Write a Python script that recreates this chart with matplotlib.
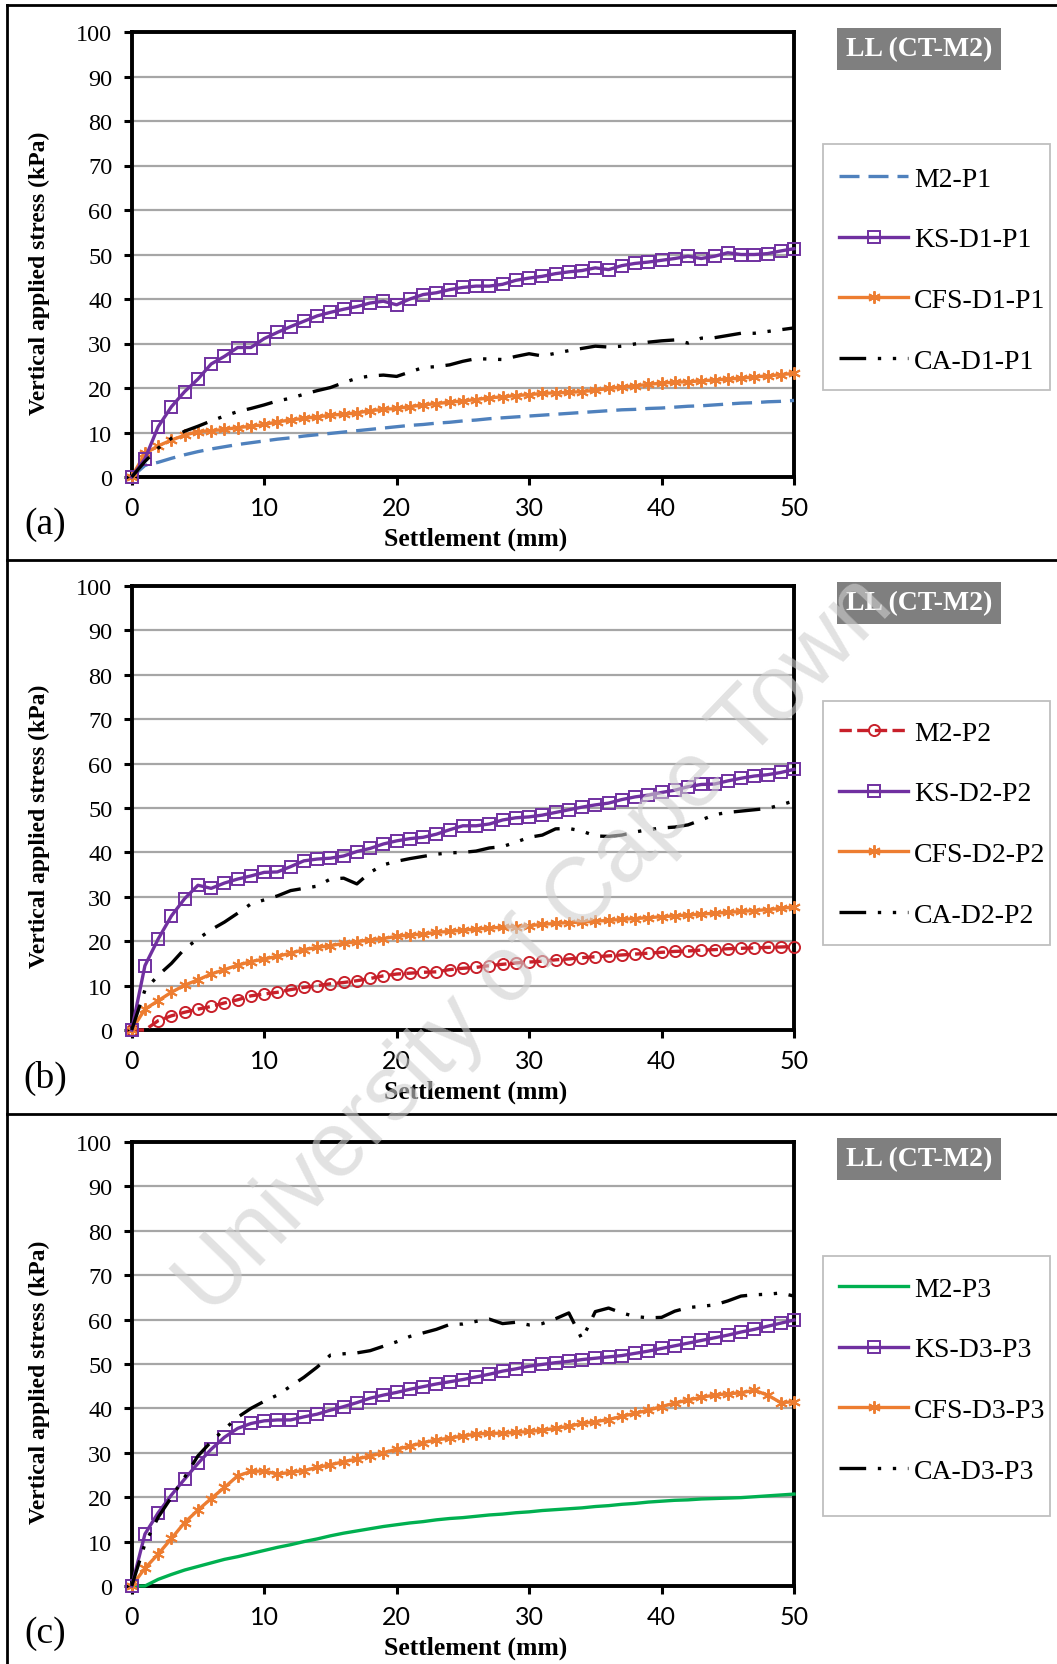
import numpy as np
import matplotlib
matplotlib.use("Agg")
import matplotlib.pyplot as plt
from matplotlib.lines import Line2D
from matplotlib.patches import Rectangle

# Settlement (mm), one reading per mm
x = np.arange(0, 51)

# (a) P1
m2_p1 = [0, 2.6, 3.3, 4.2, 5.0, 5.7, 6.3, 6.8, 7.3, 7.7, 8.1, 8.5, 8.8, 9.2, 9.5, 9.8, 10.1,
         10.4, 10.7, 11.0, 11.3, 11.6, 11.8, 12.1, 12.3, 12.6, 12.8, 13.1, 13.3, 13.5, 13.7,
         13.9, 14.1, 14.3, 14.5, 14.7, 14.9, 15.1, 15.2, 15.4, 15.5, 15.7, 15.9, 16.0, 16.2,
         16.4, 16.6, 16.7, 16.9, 17.0, 17.2]
ks_d1_p1 = [0, 4.1, 11.3, 15.8, 19.2, 22.0, 25.4, 27.1, 29.1, 29.1, 31.1, 32.5, 33.8, 35.0,
            36.2, 37.0, 37.7, 38.3, 39.1, 39.5, 38.7, 40.0, 41.0, 41.4, 42.1, 42.6, 42.9, 42.9,
            43.3, 44.2, 44.7, 45.1, 45.7, 46.1, 46.4, 47.0, 46.6, 47.5, 48.0, 48.3, 48.7, 49.1,
            49.6, 49.1, 49.6, 50.4, 50.0, 50.0, 50.2, 50.8, 51.3]
cfs_d1_p1 = [0, 5.3, 7.0, 8.3, 9.4, 10.2, 10.4, 10.7, 11.1, 11.4, 11.8, 12.4, 12.8, 13.2, 13.5,
             13.9, 14.1, 14.4, 14.9, 15.2, 15.4, 15.8, 16.2, 16.5, 16.8, 17.1, 17.4, 17.8, 18.0,
             18.3, 18.5, 18.8, 18.9, 19.0, 19.2, 19.5, 19.9, 20.2, 20.5, 20.8, 21.1, 21.3, 21.4,
             21.6, 21.8, 22.0, 22.2, 22.5, 22.7, 23.0, 23.3]
ca_d1_p1 = [0, 3.5, 6.5, 8.7, 10.3, 11.4, 12.6, 13.7, 14.7, 15.4, 16.2, 17.1, 17.7, 18.6, 19.4,
            20.1, 21.2, 22.2, 22.7, 22.9, 22.6, 23.6, 24.6, 24.8, 25.2, 26.0, 26.6, 26.5, 26.4,
            27.1, 27.7, 27.2, 27.8, 28.4, 28.9, 29.4, 29.2, 29.4, 29.9, 30.3, 30.6, 30.8, 30.1,
            31.2, 31.3, 31.8, 32.3, 32.3, 32.7, 33.1, 33.5]

# (b) P2
m2_p2 = [0, 0, 2.1, 3.2, 4.0, 4.7, 5.3, 6.1, 6.8, 7.7, 8.1, 8.5, 9.1, 9.6, 10.0, 10.4, 10.7,
         11.1, 11.6, 12.2, 12.6, 12.8, 13.0, 13.1, 13.6, 13.9, 14.1, 14.5, 14.8, 15.1, 15.3,
         15.5, 15.8, 16.0, 16.3, 16.5, 16.7, 16.9, 17.1, 17.3, 17.5, 17.7, 17.8, 18.0, 18.1,
         18.3, 18.4, 18.5, 18.6, 18.7, 18.8]
ks_d2_p2 = [0, 14.5, 20.5, 25.7, 29.6, 32.6, 31.9, 33.1, 34.0, 34.7, 35.5, 35.6, 36.8, 38.1,
            38.5, 38.7, 39.2, 40.2, 40.9, 41.9, 42.6, 43.1, 43.4, 44.1, 45.1, 46.0, 46.0, 46.4,
            47.3, 47.8, 48.0, 48.4, 49.0, 49.6, 50.2, 50.7, 51.1, 51.9, 52.5, 52.9, 53.5, 54.0,
            54.8, 55.3, 55.4, 56.1, 56.7, 57.2, 57.5, 58.0, 58.7]
cfs_d2_p2 = [0, 4.7, 6.6, 8.5, 10.1, 11.3, 12.6, 13.6, 14.6, 15.4, 16.0, 16.6, 17.3, 18.1, 18.6,
             19.0, 19.5, 19.9, 20.3, 20.6, 21.1, 21.4, 21.6, 22.0, 22.2, 22.5, 22.7, 23.0, 23.1,
             23.3, 23.5, 23.8, 24.0, 24.2, 24.3, 24.5, 24.7, 24.9, 25.1, 25.3, 25.5, 25.7, 25.9,
             26.1, 26.3, 26.5, 26.7, 26.9, 27.1, 27.4, 27.7]
ca_d2_p2 = [0, 9.0, 12.3, 15.0, 18.3, 20.5, 22.6, 24.3, 26.3, 28.4, 29.3, 30.2, 31.4, 31.9, 32.4,
            34.0, 34.2, 32.9, 35.5, 37.2, 38.0, 38.6, 39.1, 39.6, 39.9, 40.0, 40.3, 41.0, 41.3,
            42.3, 43.4, 43.9, 45.3, 45.4, 44.8, 43.7, 43.6, 43.9, 44.6, 45.1, 45.5, 45.7, 46.2,
            47.3, 48.5, 49.0, 49.3, 49.6, 49.9, 50.7, 51.6]

# (c) P3
m2_p3 = [0, 0, 1.5, 2.6, 3.6, 4.4, 5.2, 6.0, 6.6, 7.3, 8.0, 8.7, 9.3, 10.0, 10.6, 11.3, 11.9,
         12.4, 12.9, 13.4, 13.8, 14.2, 14.5, 14.9, 15.2, 15.4, 15.7, 16.0, 16.2, 16.5, 16.7,
         17.0, 17.2, 17.4, 17.6, 17.9, 18.1, 18.4, 18.6, 18.9, 19.1, 19.3, 19.4, 19.6, 19.7,
         19.8, 19.9, 20.1, 20.3, 20.5, 20.7]
ks_d3_p3 = [0, 11.7, 16.5, 20.5, 24.1, 27.6, 30.8, 33.5, 35.5, 36.6, 37.2, 37.4, 37.4, 38.1,
            38.7, 39.6, 40.4, 41.3, 42.3, 43.0, 43.6, 44.3, 44.9, 45.5, 46.0, 46.5, 47.1, 47.7,
            48.4, 48.9, 49.5, 49.9, 50.3, 50.6, 51.0, 51.3, 51.6, 51.9, 52.4, 52.9, 53.5, 54.1,
            54.7, 55.3, 55.9, 56.5, 57.2, 57.8, 58.5, 59.2, 59.9]
cfs_d3_p3 = [0, 4.0, 7.2, 10.7, 14.3, 17.1, 19.7, 22.2, 24.8, 25.8, 25.9, 25.2, 25.6, 26.0,
             26.7, 27.3, 28.0, 28.6, 29.3, 30.0, 30.8, 31.5, 32.3, 32.9, 33.3, 33.8, 34.2, 34.4,
             34.4, 34.6, 34.8, 35.1, 35.5, 36.0, 36.6, 37.0, 37.5, 38.2, 38.9, 39.6, 40.4, 41.2,
             41.9, 42.5, 43.0, 43.3, 43.5, 44.1, 43.0, 41.3, 41.5]
ca_d3_p3 = [0, 9.5, 15.5, 20.0, 24.5, 29.3, 32.5, 35.3, 38.0, 40.0, 41.6, 43.0, 45.0, 47.0,
            49.3, 52.0, 52.3, 52.5, 53.0, 54.0, 55.0, 56.2, 57.0, 57.8, 58.9, 59.0, 59.6, 60.1,
            59.1, 59.4, 58.8, 59.1, 60.2, 61.5, 55.6, 61.8, 62.6, 61.5, 60.7, 60.4, 60.5, 61.9,
            62.7, 63.0, 63.3, 64.2, 65.3, 65.6, 65.7, 66.0, 65.3]

panels = [
    ("(a)", ["M2-P1", "KS-D1-P1", "CFS-D1-P1", "CA-D1-P1"], [m2_p1, ks_d1_p1, cfs_d1_p1, ca_d1_p1]),
    ("(b)", ["M2-P2", "KS-D2-P2", "CFS-D2-P2", "CA-D2-P2"], [m2_p2, ks_d2_p2, cfs_d2_p2, ca_d2_p2]),
    ("(c)", ["M2-P3", "KS-D3-P3", "CFS-D3-P3", "CA-D3-P3"], [m2_p3, ks_d3_p3, cfs_d3_p3, ca_d3_p3]),
]

W, H = 1057, 1665
serif = "Liberation Serif"
purple = "#7030a0"
orange = "#ed7d31"
ca_style = (0, (8, 3.5, 1, 3.5, 1, 3.5))

# style of the first (M2) curve changes from panel to panel
m2_styles = [
    dict(color="#4f81bd", ls=(0, (6, 2.7)), marker=None),
    dict(color="#c8202a", ls="--", marker="o", ms=8, mfc="none", mew=1.4,
         markevery=[0] + list(range(2, 51))),
    dict(color="#00b050", ls="-", marker=None),
]

# axes tops/bottoms in pixels, legend frame (top, bottom) in pixels
ax_top = [33, 587, 1143]
ax_bot = [478, 1031, 1587]
ax_left, ax_right = 131.7, 794
leg_box = [(145, 391), (702, 946), (1257, 1517)]

fig = plt.figure(figsize=(W / 100, H / 100), dpi=100)

for i, (tag, names, series) in enumerate(panels):
    ax = fig.add_axes([ax_left / W, 1 - ax_bot[i] / H, (ax_right - ax_left) / W,
                       (ax_bot[i] - ax_top[i]) / H])
    m2, ks, cfs, ca = series
    lw = 2.4
    ax.plot(x, m2, lw=lw, label=names[0], clip_on=False, zorder=3, **m2_styles[i])
    ax.plot(x, ks, color=purple, lw=lw, marker="s", ms=8, mfc="none", mew=1.4,
            label=names[1], clip_on=False, zorder=4)
    ax.plot(x, cfs, color=orange, lw=lw, marker=(6, 2, 0), ms=9, mew=1.4,
            label=names[2], clip_on=False, zorder=3)
    ax.plot(x, ca, color="black", lw=lw, ls=ca_style, label=names[3],
            clip_on=False, zorder=5)

    ax.set_xlim(0, 50)
    ax.set_ylim(0, 100)
    ax.set_xticks(range(0, 51, 10))
    ax.set_yticks(range(0, 101, 10))
    ax.yaxis.grid(True, color="#a6a6a6", lw=1.6)
    ax.set_axisbelow(True)
    for s in ax.spines.values():
        s.set_linewidth(2.8)
    ax.tick_params(direction="out", length=6, width=2.2, pad=8)
    for lab in ax.get_yticklabels():
        lab.set_fontfamily(serif)
        lab.set_fontsize(17.5)
    for lab in ax.get_xticklabels():
        lab.set_fontfamily("Lato")
        lab.set_fontsize(18)

    ax.set_xlabel("Settlement (mm)", family=serif, weight="bold", fontsize=18.5)
    ax.xaxis.set_label_coords(0.519, -0.112)
    ax.set_ylabel("Vertical applied stress (kPa)", family=serif, weight="bold", fontsize=17)
    ax.yaxis.set_label_coords(-0.123, 0.46)

    # legend frame drawn by hand, entries placed inside it
    y0, y1 = leg_box[i]
    fig.add_artist(Rectangle((823 / W, 1 - y1 / H), 227 / W, (y1 - y0) / H, zorder=-1,
                             transform=fig.transFigure, fc="white", ec="#bfbfbf", lw=1.3))
    ax.legend(loc="center left", bbox_to_anchor=(839 / W, 1 - (ax_top[i] + 238) / H),
              bbox_transform=fig.transFigure, prop=dict(family=serif, size=20),
              frameon=False, labelspacing=1.27, handlelength=2.5, handletextpad=0.2,
              borderpad=0, borderaxespad=0)

    # grey "LL (CT-M2)" tag
    fig.text(919 / W, 1 - (ax_top[i] + 17) / H, "LL (CT-M2)", ha="center", va="center",
             family=serif, weight="bold", fontsize=20, color="white",
             bbox=dict(boxstyle="square,pad=0.3", fc="#7f7f7f", ec="none"))

    fig.text(45 / W, 1 - (ax_bot[i] + 47) / H, tag, ha="center", va="center",
             family=serif, fontsize=27)

# frame lines round the panels
for y in [6, 561, 1115]:
    fig.add_artist(Line2D([7 / W, 1], [1 - y / H, 1 - y / H], color="black", lw=2,
                          transform=fig.transFigure))
fig.add_artist(Line2D([7 / W, 7 / W], [0, 1 - 6 / H], color="black", lw=2,
                      transform=fig.transFigure))

# watermark
fig.text(536 / W, 1 - 946 / H, "University of Cape Town", ha="center", va="center",
         rotation=46, rotation_mode="anchor", fontsize=66, color="#cfcfcf", alpha=0.6,
         family="Liberation Sans", zorder=10)

fig.savefig("out.png", dpi=100)
